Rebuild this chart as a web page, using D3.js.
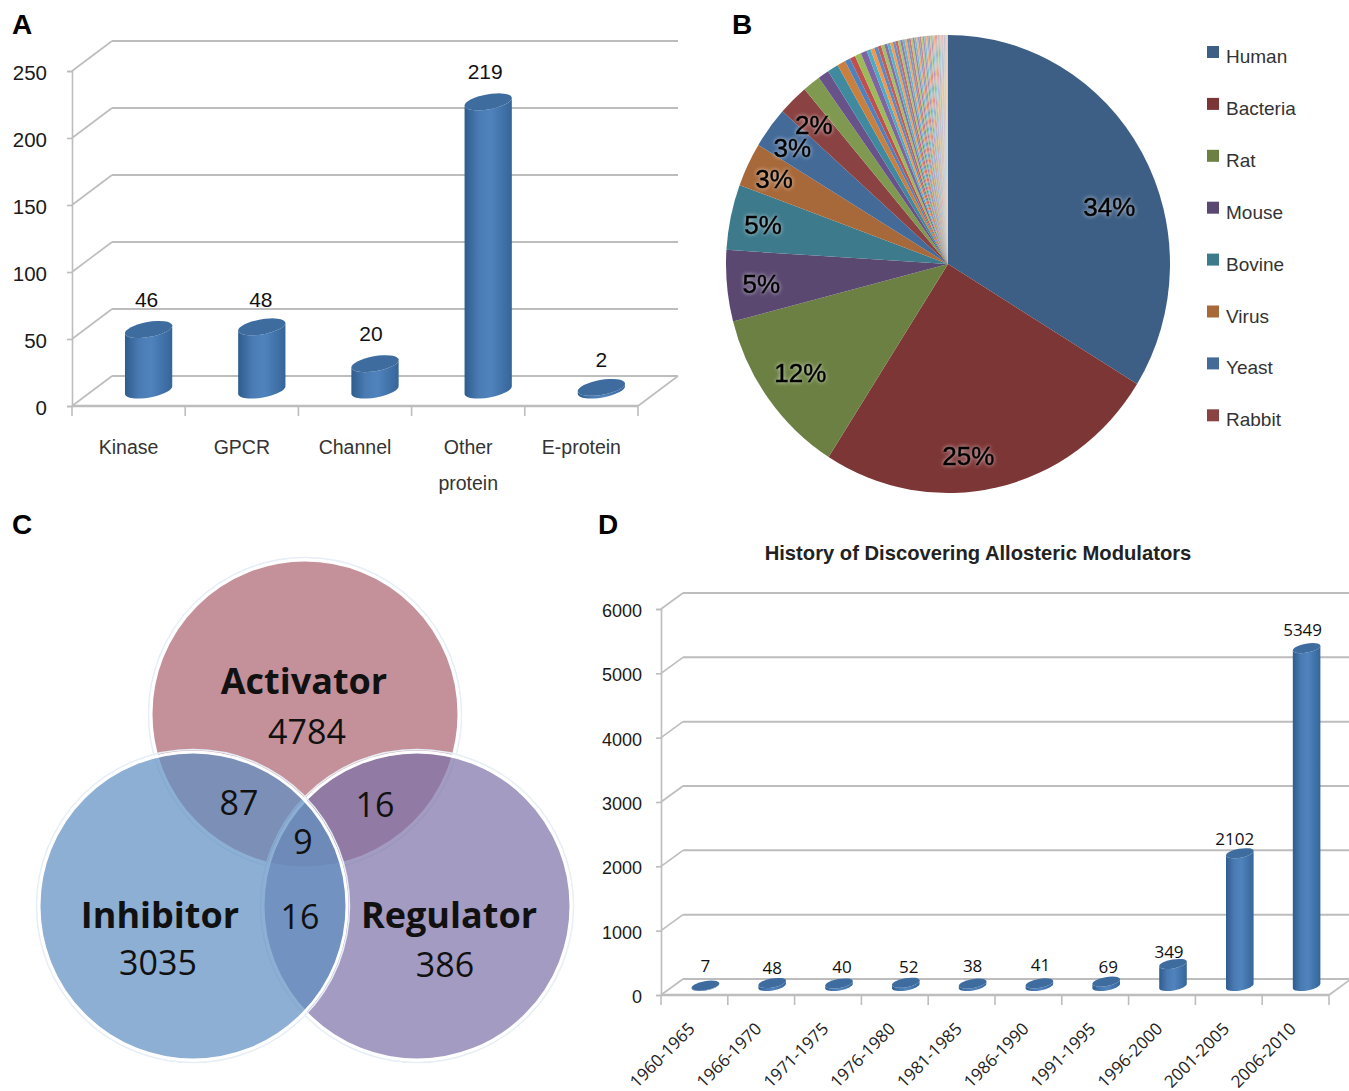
<!DOCTYPE html>
<html lang="en">
  <head>
    <meta charset="utf-8">
    <title>Allosteric modulators overview</title>
    <script src="https://cdn.jsdelivr.net/npm/d3@7"></script>
    <style>
      body { margin: 0; background: #fff; }
      svg { display: block; }
      text { font-family: "Liberation Sans", Arial, sans-serif; }
      .soft { font-family: "Open Sans", "Noto Sans", sans-serif; }
    </style>
  </head>
  <body>
    <div class="chart"></div>
    <script>
      // panel A
      var targetCats = ["Kinase", "GPCR", "Channel", "Other protein", "E-protein"];
      var targetVals = [46, 48, 20, 219, 2];
      var targetTicks = [0, 50, 100, 150, 200, 250];

      // panel B
      var speciesNames = ["Human", "Bacteria", "Rat", "Mouse", "Bovine", "Virus", "Yeast", "Rabbit"];
      var speciesVals = [33.7, 25.2, 11.9, 5.0, 4.6, 3.1, 2.9, 2.2, 1.3, 0.8, 0.8, 0.6, 0.4, 0.4, 0.45, 0.45,
        0.3, 0.28, 0.26, 0.25, 0.24, 0.22, 0.21, 0.2, 0.19, 0.18, 0.17, 0.17, 0.16, 0.15, 0.15, 0.14,
        0.14, 0.13, 0.13, 0.12, 0.12, 0.12, 0.11, 0.11, 0.11, 0.1, 0.1, 0.1, 0.09, 0.09, 0.09, 0.09,
        0.08, 0.08, 0.08, 0.08, 0.07, 0.07, 0.07, 0.07, 0.06, 0.06, 0.06, 0.06, 0.05, 0.05];

      // panel C
      var vennSets = ["Activator", "Inhibitor", "Regulator"];
      var vennOnly = [4784, 3035, 386];
      var vennOverlapVals = [87, 16, 9, 16];

      // panel D
      var yearCats = ["1960-1965", "1966-1970", "1971-1975", "1976-1980", "1981-1985",
        "1986-1990", "1991-1995", "1996-2000", "2001-2005", "2006-2010"];
      var yearVals = [7, 48, 40, 52, 38, 41, 69, 349, 2102, 5349];
      var yearTicks = [0, 1000, 2000, 3000, 4000, 5000, 6000];

      var svg = d3.select(".chart").append("svg")
          .attr("width", 1349)
          .attr("height", 1091);

      var defs = svg.append("defs");
      var grad = defs.append("linearGradient").attr("id", "cyl");
      grad.append("stop").attr("offset", "0").attr("stop-color", "#2f5c8e");
      grad.append("stop").attr("offset", "0.3").attr("stop-color", "#4a7bb3");
      grad.append("stop").attr("offset", "0.55").attr("stop-color", "#5083bd");
      grad.append("stop").attr("offset", "1").attr("stop-color", "#35659a");

      [["A", 12, 34], ["B", 732, 34], ["C", 12, 534], ["D", 598, 534]].forEach(function(p) {
        svg.append("text").attr("x", p[1]).attr("y", p[2])
            .attr("font-size", 28).attr("font-weight", "bold").text(p[0]);
      });

      // fake 3d column chart, used for A and D
      function columns(o) {
        var g = svg.append("g");
        var x = d3.scaleBand().domain(o.cats).range([o.x0, o.x1]);
        var y = d3.scaleLinear().domain(o.domain).range([o.y0, o.yTop]);
        var barY = d3.scaleLinear().domain(o.domain).range([o.y0 + o.dy + o.barShift, o.yTop + o.dy + o.barShift + o.barSquash]);
        var grid = "#bdbdbd";

        g.selectAll("line.back").data(o.ticks).enter().append("line")
            .attr("x1", o.x0 + o.dx).attr("x2", o.x1 + o.dx)
            .attr("y1", function(d) { return y(d) + o.dy; })
            .attr("y2", function(d) { return y(d) + o.dy; })
            .attr("stroke", grid).attr("stroke-width", 2);
        g.selectAll("line.diag").data(o.ticks).enter().append("line")
            .attr("x1", o.x0).attr("x2", o.x0 + o.dx)
            .attr("y1", function(d) { return y(d); })
            .attr("y2", function(d) { return y(d) + o.dy; })
            .attr("stroke", grid).attr("stroke-width", 1.6);
        g.append("line").attr("x1", o.x1).attr("x2", o.x1 + o.dx)
            .attr("y1", o.y0).attr("y2", o.y0 + o.dy)
            .attr("stroke", grid).attr("stroke-width", 1.6);

        // y axis
        var yAxis = d3.axisLeft(y).tickValues(o.ticks).tickSize(5).tickPadding(o.yPad).tickFormat(d3.format("d"));
        var ya = g.append("g").attr("transform", "translate(" + o.x0 + ",0)").call(yAxis);
        ya.select(".domain").attr("stroke", grid).attr("stroke-width", 1.6);
        ya.selectAll("line").attr("stroke", grid).attr("stroke-width", 1.6);
        ya.selectAll("text").attr("font-size", o.yFont).attr("fill", "#1a1a1a")
            .attr("dy", "0.42em")
            .attr("font-family", '"Liberation Sans", Arial, sans-serif');

        // x axis, ticks sit between the categories
        g.append("line").attr("x1", o.x0).attr("x2", o.x1).attr("y1", o.y0).attr("y2", o.y0)
            .attr("stroke", grid).attr("stroke-width", 2.4);
        var edges = o.cats.map(function(c) { return x(c); }).concat([o.x1]);
        g.selectAll("line.tk").data(edges).enter().append("line")
            .attr("x1", function(d) { return d; }).attr("x2", function(d) { return d; })
            .attr("y1", o.y0).attr("y2", o.y0 + 10)
            .attr("stroke", grid).attr("stroke-width", 1.6);

        // columns
        var rx = o.rx, ry = o.ry, th = -10, c = Math.cos(th * Math.PI / 180), s = Math.sin(th * Math.PI / 180);
        var data = o.cats.map(function(c, i) { return {cat: c, val: o.vals[i], nudge: o.valNudge[i]}; });
        var bar = g.selectAll("g.bar").data(data).enter().append("g")
            .attr("transform", function(d) {
              return "translate(" + (x(d.cat) + x.bandwidth() / 2 + o.dx / 2) + ",0)";
            });

        bar.append("path")
            .attr("fill", "url(#cyl)")
            .attr("d", function(d) {
              var t = barY(d.val), b = barY(0);
              var lx = -rx * c, rxx = rx * c;
              return "M" + lx + "," + (t - rx * s)
                + "L" + lx + "," + (b - rx * s)
                + "A" + rx + "," + ry + "," + th + ",0,0," + rxx + "," + (b + rx * s)
                + "L" + rxx + "," + (t + rx * s)
                + "A" + rx + "," + ry + "," + th + ",0,1," + lx + "," + (t - rx * s) + "Z";
            });
        bar.append("ellipse")
            .attr("rx", rx).attr("ry", ry)
            .attr("transform", function(d) { return "translate(0," + barY(d.val) + ") rotate(" + th + ")"; })
            .attr("fill", "#3f6c9f");

        bar.append("text")
            .attr("class", o.valClass)
            .attr("x", function(d) { return d.nudge[0]; })
            .attr("y", function(d) { return barY(d.val) - o.valUp + d.nudge[1]; })
            .attr("text-anchor", "middle")
            .attr("dominant-baseline", "middle")
            .attr("font-size", o.valFont)
            .attr("fill", "#111")
            .text(function(d) { return d.val; });

        return {g: g, x: x};
      }

      var chartA = columns({
        cats: targetCats, vals: targetVals, ticks: targetTicks, domain: [0, 250],
        x0: 72, x1: 638, y0: 406, yTop: 71, dx: 40, dy: -30,
        barShift: 14, barSquash: 6, rx: 24, ry: 7.5, yPad: 20, yFont: 20.5,
        valClass: "", valUp: 28, valFont: 21,
        valNudge: [[-2, 0], [-1, 3], [-4, 0], [-3, 0], [0, 2]]
      });

      chartA.g.selectAll("text.cat").data(targetCats).enter().append("text")
          .attr("class", "cat")
          .attr("text-anchor", "middle")
          .attr("font-size", 19.5)
          .attr("fill", "#333")
          .each(function(d) {
            var t = d3.select(this), cx = chartA.x(d) + chartA.x.bandwidth() / 2;
            var words = d === "Other protein" ? d.split(" ") : [d];
            words.forEach(function(w, i) {
              t.append("tspan").attr("x", cx).attr("y", 454 + i * 36).text(w);
            });
          });

      // pie B
      var pieG = svg.append("g").attr("transform", "translate(948,264) scale(1,1.032)");
      var pieR = 222;
      // excel darkens the first cycle and washes out the later ones
      var base = ["#4f81bd", "#c0504d", "#9bbb59", "#8064a2", "#4bacc6", "#f79646"];
      var firstCycle = ["#3e5f85", "#7d3636", "#6b8042", "#5a4870", "#3d7a8b", "#a8693a"];
      var secondCycle = ["#446a98", "#8a4242", "#7f9a50", "#675389", "#3f8a9f", "#c97f3e"];
      function pieColor(i) {
        var cycle = Math.floor(i / 6), k = i % 6;
        if (cycle === 0) return firstCycle[k];
        if (cycle === 1) return secondCycle[k];
        return d3.interpolateRgb(base[k], "#f4f1ee")(Math.min(0.65, (cycle - 2) * 0.08));
      }

      var pie = d3.pie().sort(null);
      var arc = d3.arc().innerRadius(0).outerRadius(pieR);
      var arcs = pie(speciesVals);

      pieG.selectAll("path").data(arcs).enter().append("path")
          .attr("d", arc)
          .attr("fill", function(d, i) { return pieColor(i); });

      // best-fit label spots, nudged from the mid radius of each slice
      var labelArc = d3.arc().innerRadius(pieR * 0.75).outerRadius(pieR * 0.75);
      var labelNudge = [[16, 29], [-17, 27], [-13, 10], [-21, 6], [-22, -2], [-24, -8], [-22, -12], [-18, -14]];
      var total = d3.sum(speciesVals);
      svg.append("g").selectAll("text").data(arcs.slice(0, 8)).enter().append("text")
          .attr("transform", function(d, i) {
            var c = labelArc.centroid(d);
            return "translate(" + (948 + c[0] + labelNudge[i][0]) + "," + (264 + c[1] * 1.032 + labelNudge[i][1]) + ")";
          })
          .attr("text-anchor", "middle")
          .attr("dominant-baseline", "middle")
          .attr("font-size", 26)
          .attr("fill", "#000")
          .attr("stroke", "#000")
          .attr("stroke-width", 0.4)
          .style("filter", "drop-shadow(0 0 2px rgba(255,255,255,0.75))")
          .text(function(d) { return d3.format(".0%")(d.value / total); });

      var leg = svg.append("g").selectAll("g").data(speciesNames).enter().append("g")
          .attr("transform", function(d, i) { return "translate(1207," + (52 + i * 51.9) + ")"; });
      leg.append("rect").attr("y", -6).attr("width", 12).attr("height", 12)
          .attr("fill", function(d, i) { return pieColor(i); });
      leg.append("text").attr("x", 19).attr("y", 11)
          .attr("font-size", 19).attr("fill", "#333")
          .text(function(d) { return d; });

      // venn C
      var vennCircles = [[305, 714], [193, 906], [417, 906]];
      var vennR = 154;
      var vennFill = ["#c4919a", "#5f90c2", "#7c70a6"];
      var vennAlpha = [1, 0.72, 0.7];
      var venn = svg.append("g");
      // activator first, regulator over it, inhibitor on top
      [0, 2, 1].forEach(function(i) {
        var cx = vennCircles[i][0], cy = vennCircles[i][1];
        venn.append("circle").attr("cx", cx).attr("cy", cy).attr("r", vennR + 2.5)
            .attr("fill", "none").attr("stroke", "#e6eef6").attr("stroke-width", 1.5);
        venn.append("circle").attr("cx", cx).attr("cy", cy).attr("r", vennR)
            .attr("fill", vennFill[i]).attr("fill-opacity", vennAlpha[i])
            .attr("stroke", "#fff").attr("stroke-width", 3);
      });

      var vennText = [
        [vennSets[0], 304, 684, true], [vennOnly[0], 307, 735, false],
        [vennSets[1], 160, 918, true], [vennOnly[1], 158, 966, false],
        [vennSets[2], 449, 918, true], [vennOnly[2], 445, 968, false],
        [vennOverlapVals[0], 239, 806, false], [vennOverlapVals[1], 375, 808, false],
        [vennOverlapVals[2], 303, 845, false], [vennOverlapVals[3], 300, 920, false]
      ];
      venn.selectAll("text").data(vennText).enter().append("text")
          .attr("class", "soft")
          .attr("x", function(d) { return d[1]; })
          .attr("y", function(d) { return d[2]; })
          .attr("text-anchor", "middle")
          .attr("dominant-baseline", "middle")
          .attr("font-size", function(d) { return d[3] ? 36 : 34; })
          .attr("font-weight", function(d) { return d[3] ? "bold" : "normal"; })
          .attr("fill", "#111")
          .text(function(d) { return d[0]; });

      // panel D
      svg.append("text")
          .attr("x", 978).attr("y", 560)
          .attr("text-anchor", "middle")
          .attr("font-size", 20.2)
          .attr("font-weight", "bold")
          .attr("fill", "#222")
          .text("History of Discovering Allosteric Modulators");

      var chartD = columns({
        cats: yearCats, vals: yearVals, ticks: yearTicks, domain: [0, 6000],
        x0: 661, x1: 1329, y0: 995, yTop: 609, dx: 22, dy: -16,
        barShift: 7, barSquash: 7, rx: 14, ry: 4.5, yPad: 14, yFont: 18,
        valClass: "soft", valUp: 16, valFont: 17,
        valNudge: [[0, -2], [0, 2], [3, 1], [3, 2], [0, 0], [1, -1], [2, 3], [-4, 5], [-5, 3], [-4, -1]]
      });

      chartD.g.selectAll("text.cat").data(yearCats).enter().append("text")
          .attr("class", "soft cat")
          .attr("text-anchor", "end")
          .attr("font-size", 17)
          .attr("fill", "#222")
          .attr("transform", function(d) {
            return "translate(" + (chartD.x(d) + chartD.x.bandwidth() / 2 + 1.5) + ",1030) rotate(-45)";
          })
          .text(function(d) { return d; });
    </script>
  </body>
</html>
